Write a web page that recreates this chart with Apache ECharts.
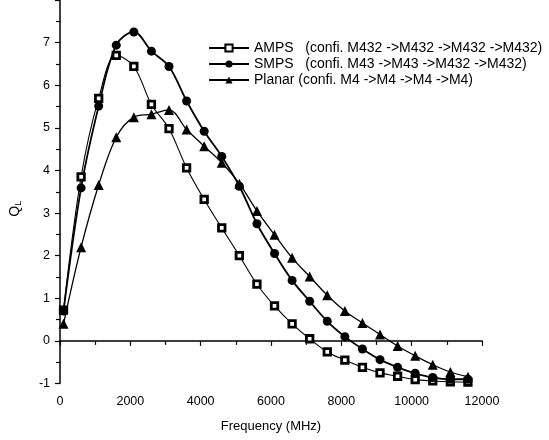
<!DOCTYPE html>
<html>
<head>
<meta charset="utf-8">
<script src="https://cdn.jsdelivr.net/npm/echarts@6/dist/echarts.min.js"></script>
<style>
html,body{margin:0;padding:0;background:#fff;}
#chart{width:549px;height:440px;}
</style>
</head>
<body>
<div id="chart"></div>
<script>
var freq = [100, 600, 1100, 1600, 2100, 2600, 3100, 3600, 4100, 4600, 5100, 5600, 6100, 6600, 7100, 7600, 8100, 8600, 9100, 9600, 10100, 10600, 11100, 11600];
var amps = [0.72, 3.85, 5.69, 6.70, 6.44, 5.55, 4.98, 4.06, 3.32, 2.65, 2.00, 1.33, 0.82, 0.40, 0.05, -0.26, -0.45, -0.62, -0.75, -0.83, -0.91, -0.94, -0.96, -0.97];
var smps = [0.70, 3.59, 5.51, 6.94, 7.25, 6.80, 6.44, 5.63, 4.92, 4.33, 3.63, 2.75, 2.05, 1.42, 0.93, 0.46, 0.10, -0.19, -0.44, -0.62, -0.76, -0.86, -0.90, -0.90];
var planar = [0.40, 2.20, 3.66, 4.78, 5.25, 5.32, 5.42, 4.96, 4.57, 4.18, 3.69, 3.05, 2.49, 1.95, 1.51, 1.07, 0.70, 0.42, 0.15, -0.12, -0.35, -0.56, -0.73, -0.84];
var seriesNames = ['AMPS   (confi. M432 ->M432 ->M432 ->M432)', 'SMPS   (confi. M43 ->M43 ->M432 ->M432)', 'Planar (confi. M4 ->M4 ->M4 ->M4)'];
var xTitle = 'Frequency (MHz)';
var yTitle = 'Q{sub|L}';

function pairs(ys) { return freq.map(function (f, i) { return [f, ys[i]]; }); }

var FONT = '"Liberation Sans", Arial, sans-serif';
var chart = echarts.init(document.getElementById('chart'), null, {renderer: 'canvas'});
chart.setOption({
  animation: false,
  backgroundColor: '#ffffff',
  textStyle: {fontFamily: FONT, color: '#000'},
  grid: {left: 57, right: 67, top: -23.3, bottom: 56.5, containLabel: false},
  legend: {
    orient: 'vertical', left: 208, top: 41, itemWidth: 40, itemHeight: 9, itemGap: 2,
    padding: 0,
    textStyle: {fontFamily: FONT, fontSize: 14, color: '#000'},
    data: seriesNames
  },
  xAxis: {
    type: 'value', min: 0, max: 12000, interval: 2000,
    name: xTitle, nameLocation: 'middle', nameGap: 36,
    nameTextStyle: {fontFamily: FONT, fontSize: 13, color: '#000'},
    axisLine: {show: true, lineStyle: {color: '#000', width: 1.5}},
    axisTick: {show: true, inside: false, length: 5, lineStyle: {color: '#000', width: 1.2}},
    minorTick: {show: true, splitNumber: 2, length: 4, lineStyle: {color: '#000', width: 1.2}},
    axisLabel: {fontFamily: FONT, fontSize: 12.5, color: '#000', margin: 12,
      formatter: function (v) { return String(v); }},
    splitLine: {show: false}
  },
  yAxis: {
    type: 'value', min: -1, max: 8, interval: 1,
    name: yTitle, nameLocation: 'middle', nameGap: 37,
    nameTextStyle: {fontFamily: FONT, fontSize: 14, color: '#000', padding: [0, 34, 0, 0],
      rich: {sub: {fontSize: 9, verticalAlign: 'bottom', padding: [7, 0, 0, 0], fontFamily: FONT}}},
    axisLine: {show: true, lineStyle: {color: '#000', width: 1.5}},
    axisTick: {show: true, inside: false, length: 5, lineStyle: {color: '#000', width: 1.2}},
    minorTick: {show: true, splitNumber: 2, length: 4, lineStyle: {color: '#000', width: 1.2}},
    axisLabel: {fontFamily: FONT, fontSize: 12.5, color: '#000', margin: 10, showMaxLabel: false},
    splitLine: {show: false}
  },
  series: [
    {name: seriesNames[0], type: 'line', data: pairs(amps), smooth: 0.35,
     symbol: 'rect', symbolSize: 6.5,
     lineStyle: {color: '#000', width: 1.1},
     itemStyle: {color: '#fff', borderColor: '#000', borderWidth: 2.8}},
    {name: seriesNames[1], type: 'line', data: pairs(smps), smooth: 0.35,
     symbol: 'circle', symbolSize: 9,
     lineStyle: {color: '#000', width: 1.8},
     itemStyle: {color: '#000', borderColor: '#000', borderWidth: 0}},
    {name: seriesNames[2], type: 'line', data: pairs(planar), smooth: 0.35,
     symbol: 'triangle', symbolSize: 10,
     lineStyle: {color: '#000', width: 1.3},
     itemStyle: {color: '#000', borderColor: '#000', borderWidth: 0}}
  ]
});
</script>
</body>
</html>
